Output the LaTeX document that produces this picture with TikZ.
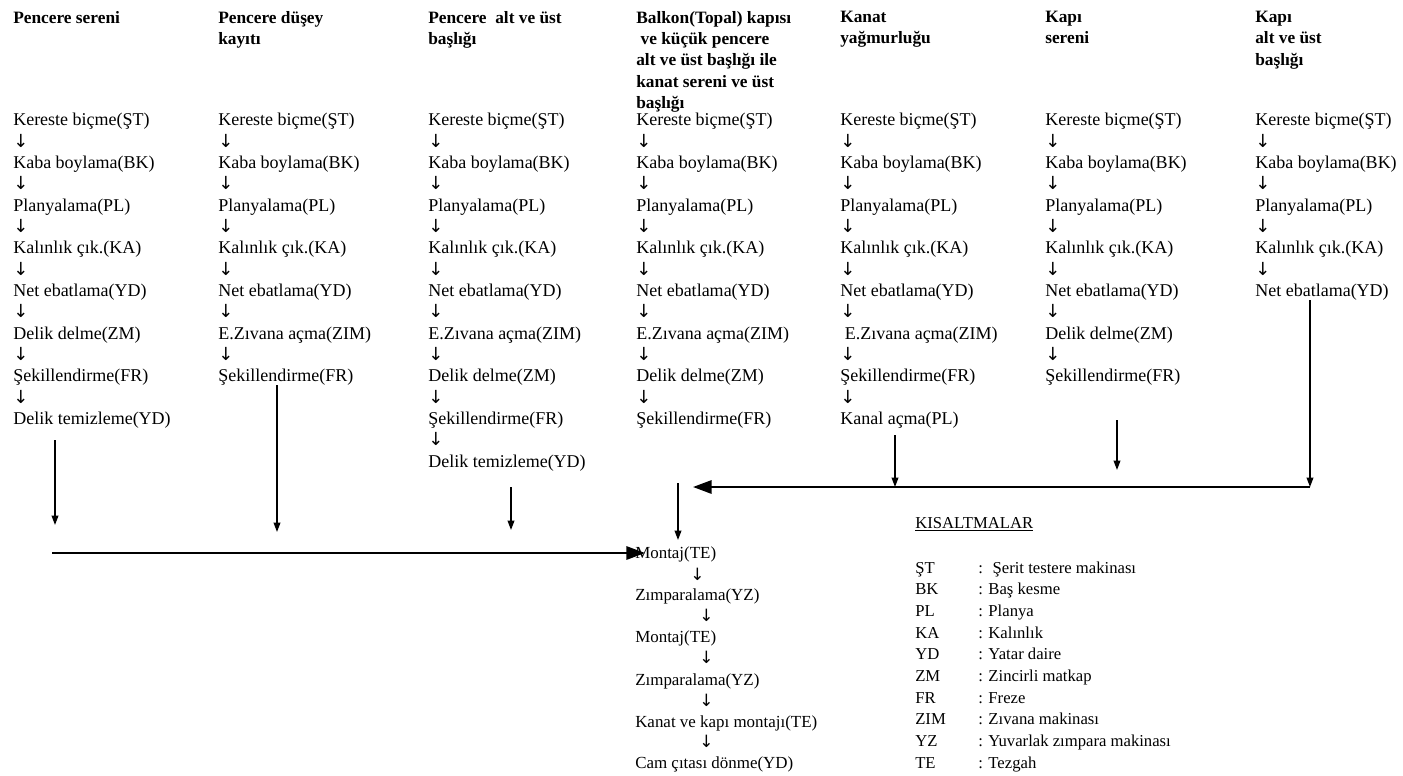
\documentclass[tikz,border=0pt]{standalone}
\usepackage{fontspec}
\setmainfont{Liberation Serif}
\newfontfamily\okfont{DejaVu Sans}
\usepackage{tikz}
\usetikzlibrary{positioning,arrows.meta}

\newcommand{\asagi}{{\okfont ↓}}
\newcommand{\ilkadimlar}{Kereste biçme(ŞT)\\\asagi\\Kaba boylama(BK)\\\asagi\\Planyalama(PL)\\\asagi\\Kalınlık çık.(KA)\\\asagi\\Net ebatlama(YD)}

\begin{document}
\begin{tikzpicture}[x=0.75pt,y=-0.75pt,
    baslik/.style={anchor=north west,align=left,inner sep=0pt,font=\fontsize{13}{16}\selectfont\bfseries},
    adim/.style={anchor=north west,align=left,inner sep=0pt,font=\fontsize{13.5}{16}\selectfont},
    alt/.style={anchor=base west,inner sep=0pt,font=\fontsize{12.7}{15}\selectfont},
    kisa/.style={anchor=base west,inner sep=0pt,font=\fontsize{12.5}{15}\selectfont},
    ok/.style={line width=1.1pt,-{Triangle[length=7pt,width=5pt]}},
    buyukok/.style={line width=1.6pt,-{Triangle[length=14pt,width=10pt]}}]
\useasboundingbox (0,0) rectangle (1403,775);

% Basliklar
\node[baslik] (h1) at (13,11) {Pencere sereni};
\node[baslik] (h2) at (218,11) {Pencere düşey\\kayıtı};
\node[baslik] (h3) at (428,11) {Pencere\ \ alt ve üst\\başlığı};
\node[baslik] (h4) at (636,11) {Balkon(Topal) kapısı\\\ ve küçük pencere\\alt ve üst başlığı ile\\kanat sereni ve üst\\başlığı};
\node[baslik] (h5) at (840,11) {Kanat\\yağmurluğu};
\node[baslik] (h6) at (1045,11) {Kapı\\sereni};
\node[baslik] (h7) at (1255,11) {Kapı\\alt ve üst\\başlığı};

% Is adimlari
\node[adim] (c1) at (13,113) {\ilkadimlar\\\asagi\\Delik delme(ZM)\\\asagi\\Şekillendirme(FR)\\\asagi\\Delik temizleme(YD)};
\node[adim] (c2) at (218,113) {\ilkadimlar\\\asagi\\E.Zıvana açma(ZIM)\\\asagi\\Şekillendirme(FR)};
\node[adim] (c3) at (428,113) {\ilkadimlar\\\asagi\\E.Zıvana açma(ZIM)\\\asagi\\Delik delme(ZM)\\\asagi\\Şekillendirme(FR)\\\asagi\\Delik temizleme(YD)};
\node[adim] (c4) at (636,113) {\ilkadimlar\\\asagi\\E.Zıvana açma(ZIM)\\\asagi\\Delik delme(ZM)\\\asagi\\Şekillendirme(FR)};
\node[adim] (c5) at (840,113) {\ilkadimlar\\\asagi\\\ E.Zıvana açma(ZIM)\\\asagi\\Şekillendirme(FR)\\\asagi\\Kanal açma(PL)};
\node[adim] (c6) at (1045,113) {\ilkadimlar\\\asagi\\Delik delme(ZM)\\\asagi\\Şekillendirme(FR)};
\node[adim] (c7) at (1255,113) {\ilkadimlar};

% Montaj zinciri
\node[alt] (m1) at (635,558) {Montaj(TE)};
\node[alt] (m2) at (635,600) {Zımparalama(YZ)};
\node[alt] (m3) at (635,642) {Montaj(TE)};
\node[alt] (m4) at (635,685) {Zımparalama(YZ)};
\node[alt] (m5) at (635,727) {Kanat ve kapı montajı(TE)};
\node[alt] (m6) at (635,768) {Cam çıtası dönme(YD)};
\node[alt] (a1) at (690,580) {\asagi};
\foreach \y [count=\i from 2] in {621,663,706,747}
  \node[alt] (a\i) at (699,\y) {\asagi};

% Kisaltmalar
\node[kisa] (kb) at (915,528) {\underline{KISALTMALAR}};
\foreach \k/\t [count=\i] in {ŞT/\ Şerit testere makinası,BK/Baş kesme,PL/Planya,KA/Kalınlık,YD/Yatar daire,ZM/Zincirli matkap,FR/Freze,ZIM/Zıvana makinası,YZ/Yuvarlak zımpara makinası,TE/Tezgah}{
  \node[kisa] (k\i) at (915,{573+21.7*(\i-1)}) {\k};
  \node[kisa] (t\i) at (978,{573+21.7*(\i-1)}) {: \t};
}

% Toplama oklari
\coordinate (s1) at (55,440);   \coordinate (e1) at (55,525);
\coordinate (s2) at (277,385);  \coordinate (e2) at (277,532);
\coordinate (s3) at (511,487);  \coordinate (e3) at (511,530);
\coordinate (s4) at (678,483);  \coordinate (e4) at (678,540);
\coordinate (s5) at (895,435);  \coordinate (e5) at (895,487);
\coordinate (s6) at (1117,420); \coordinate (e6) at (1117,470);
\coordinate (s7) at (1310,300); \coordinate (e7) at (1310,487);
\coordinate (sol) at (693,487);
\coordinate (b1) at (52,553);   \coordinate (b2) at (645,553);

\foreach \i in {1,...,7}
  \draw[ok] (s\i) -- (e\i);
\draw[buyukok] (e7) -- (sol);
\draw[buyukok] (b1) -- (b2);
\end{tikzpicture}
\end{document}
